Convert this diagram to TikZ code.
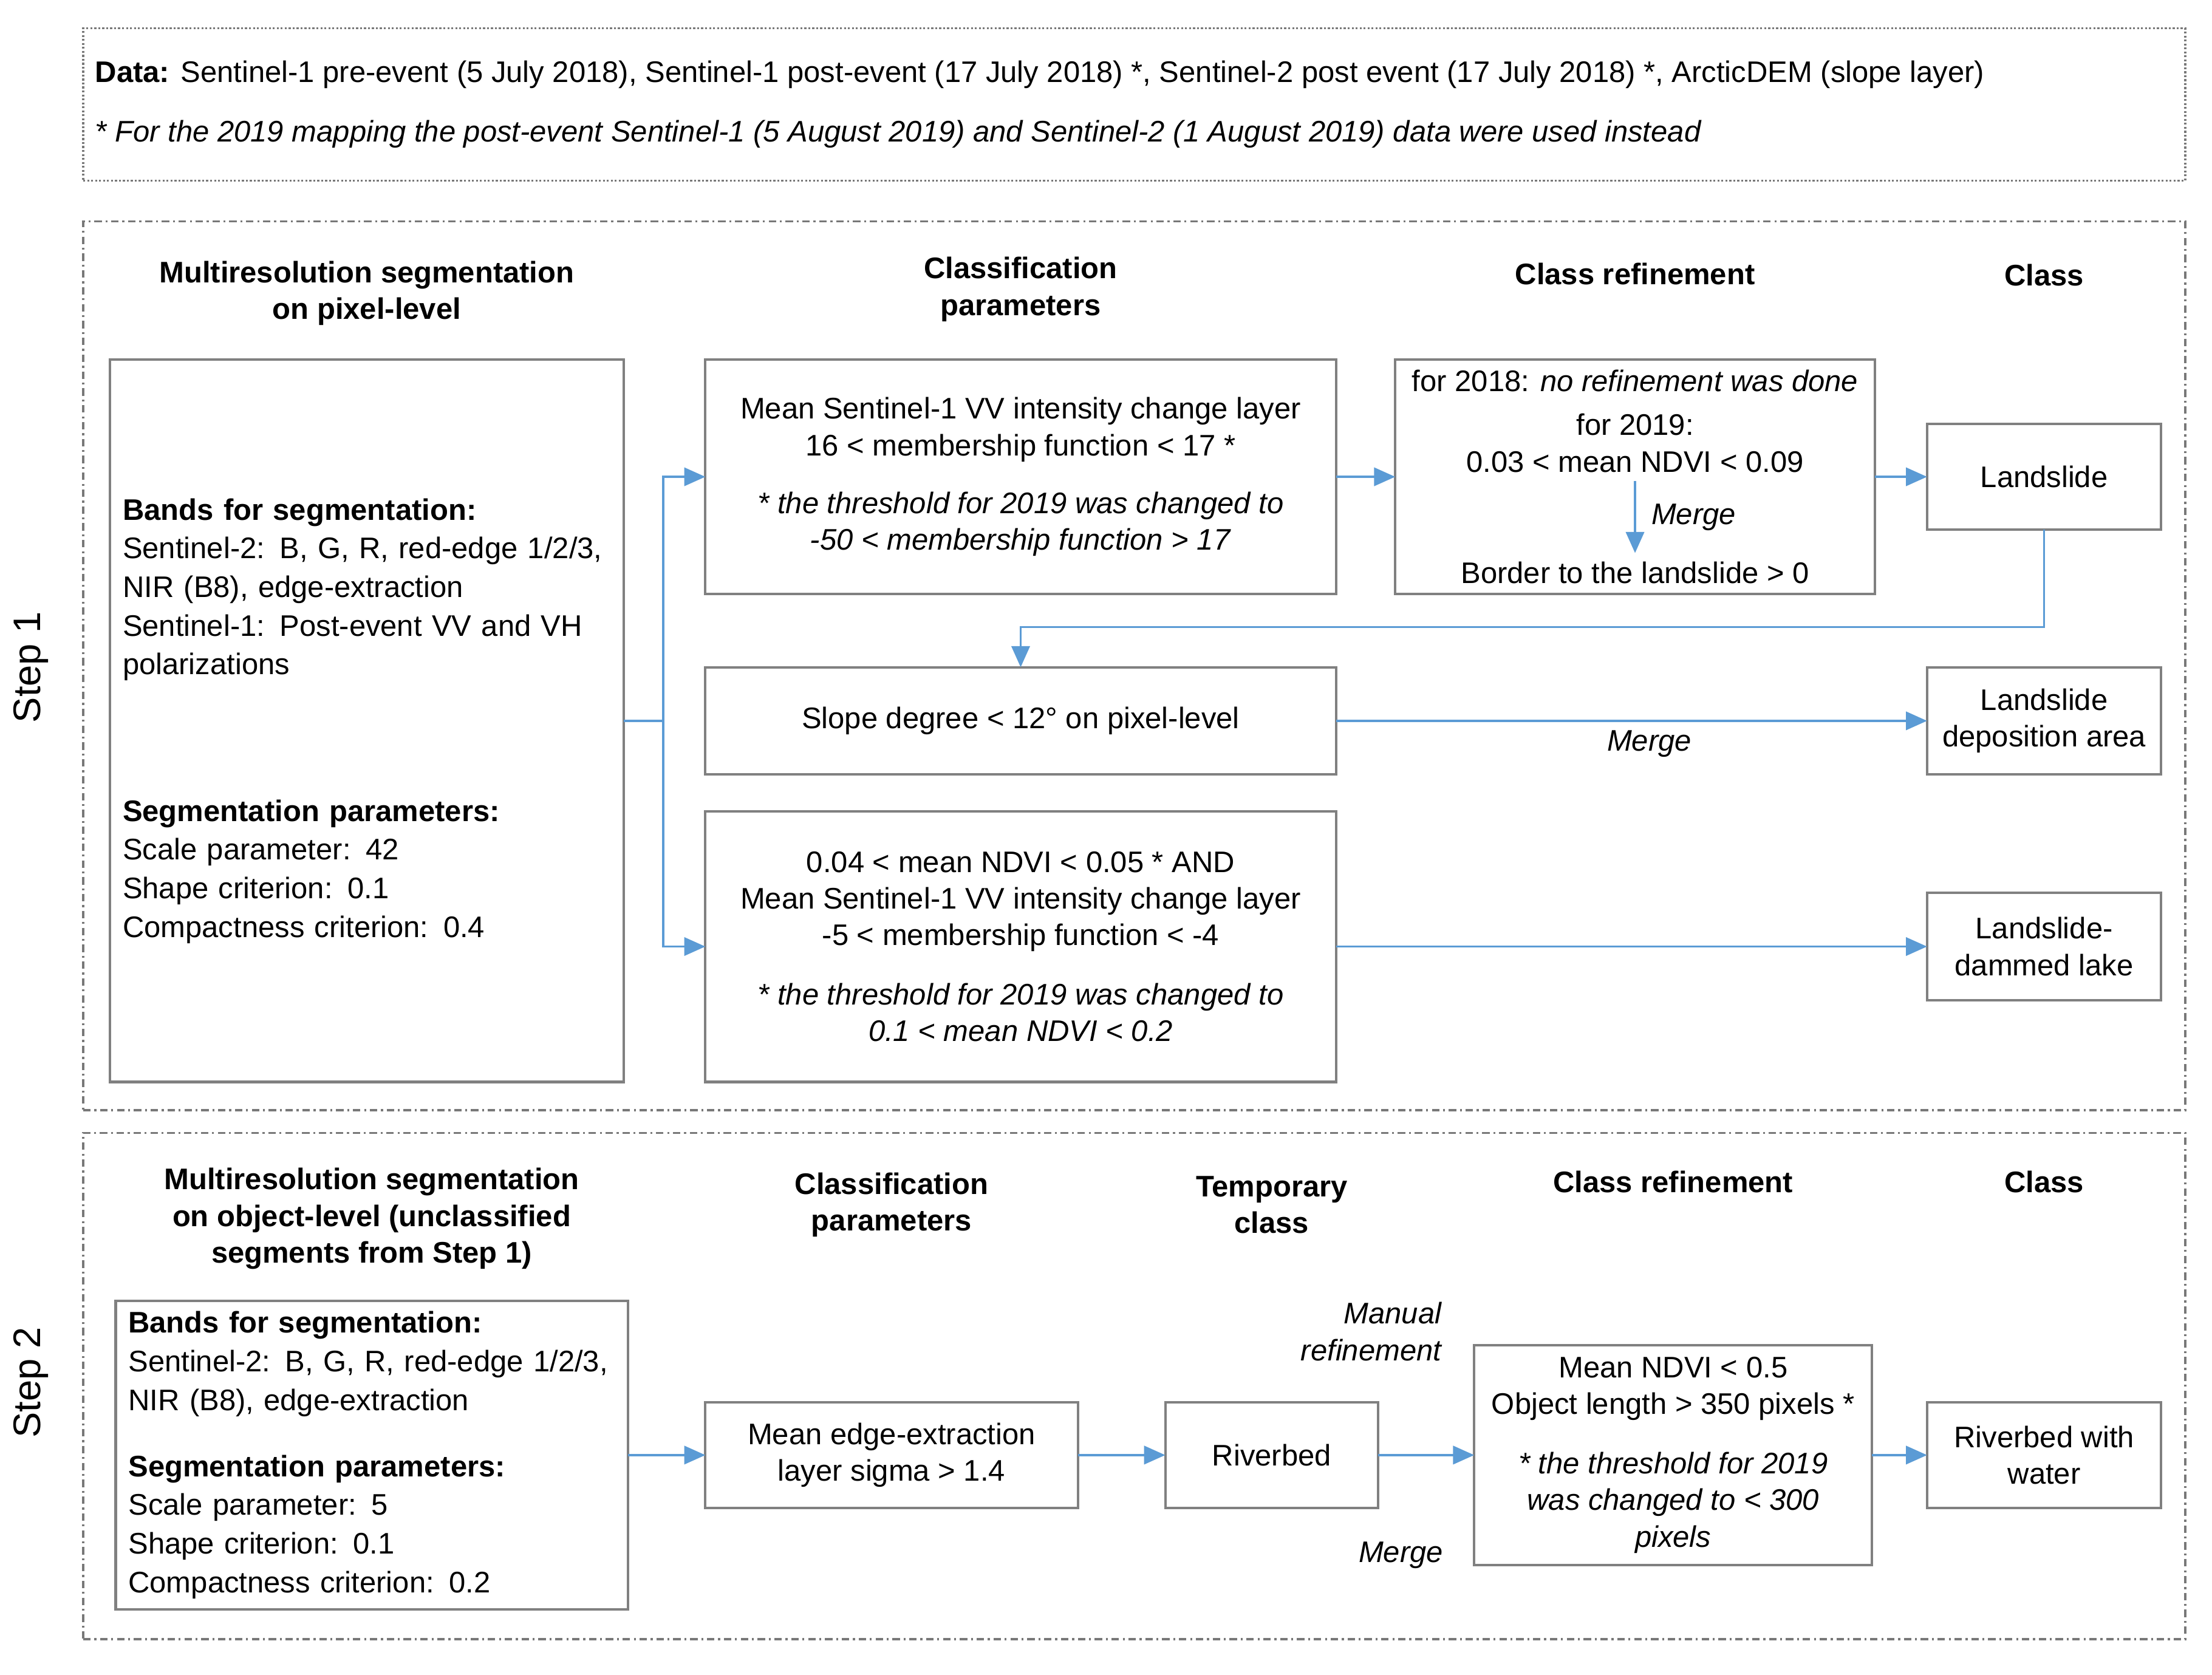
\documentclass[tikz,border=0pt]{standalone}
\usepackage{fontspec}
\setmainfont{Liberation Sans}
\usetikzlibrary{arrows.meta,positioning}
\definecolor{boxgray}{RGB}{128,128,128}
\definecolor{framegray}{RGB}{120,120,120}
\definecolor{arrowblue}{RGB}{91,155,213}
\newcommand{\boxfont}{\fontsize{12}{14.8}\selectfont}

\begin{document}
\begin{tikzpicture}[every node/.style={font=\boxfont},
  box/.style={rectangle, draw=boxgray, line width=1pt, align=center, inner sep=0pt, outer sep=0pt},
  leftbox/.style={rectangle, draw=boxgray, line width=1pt, align=left, outer sep=0pt,
                  inner xsep=0.18cm, inner ysep=0pt, font=\fontsize{12}{15.6}\selectfont},
  head/.style={align=center, font=\boxfont\bfseries},
  lbl/.style={font=\boxfont\itshape},
  frame/.style={draw=framegray, line width=0.8pt, dash pattern=on 3pt off 1.5pt on 0.8pt off 1.5pt},
  line/.style={draw=arrowblue, line width=0.9pt},
  arrow/.style={line, -{Triangle[length=0.3cm,width=0.26cm]}}]
  \useasboundingbox (0,0) rectangle (31.36,-23.74);

  \node[draw=framegray, line width=0.8pt, dash pattern=on 0.8pt off 0.8pt,
        minimum width=29.8cm, minimum height=2.16cm] (data) at (16.08,-1.48) {};
  \node[anchor=west, align=left] (datatxt) at ([xshift=0.06cm]data.west)
    {\textbf{Data:} Sentinel-1 pre-event (5 July 2018), Sentinel-1 post-event (17 July 2018) *, Sentinel-2 post event (17 July 2018) *, ArcticDEM (slope layer)\\[0.32cm]
     \textit{* For the 2019 mapping the post-event Sentinel-1 (5 August 2019) and Sentinel-2 (1 August 2019) data were used instead}};

  \node[frame, minimum width=29.8cm, minimum height=12.6cm] (frame1) at (16.08,-9.44) {};
  \node[frame, minimum width=29.8cm, minimum height=7.18cm] (frame2) at (16.08,-19.65) {};
  \node[rotate=90, font=\fontsize{15.5}{18}\selectfont] (step1) at (0.44,-9.46) {Step 1};
  \node[rotate=90, font=\fontsize{15.5}{18}\selectfont] (step2) at (0.44,-19.6) {Step 2};

  \node[leftbox, text width=6.92cm, minimum height=10.24cm] (seg1) at (5.2,-10.22)
    {\textbf{Bands for segmentation:}\\Sentinel-2: B, G, R, red-edge 1/2/3,\\NIR (B8), edge-extraction\\
     Sentinel-1: Post-event VV and VH\\polarizations\\[1.53cm]
     \textbf{Segmentation parameters:}\\Scale parameter: 42\\Shape criterion: 0.1\\Compactness criterion: 0.4};
  \node[box, minimum width=8.94cm, minimum height=3.32cm, right=1.16cm of seg1.north east, anchor=north west] (vv)
    {Mean Sentinel-1 VV intensity change layer\\16 < membership function < 17 *\\[0.3cm]
     \textit{* the threshold for 2019 was changed to}\\\textit{-50 < membership function > 17}};
  \node[box, minimum width=6.8cm, minimum height=3.32cm, right=0.84cm of vv] (ref1) {};
  \node (r18) at ([yshift=-0.3cm]ref1.north) {for 2018: \textit{no refinement was done}};
  \node[align=center] (r19) at ([yshift=-1.18cm]ref1.north) {for 2019:\\0.03 < mean NDVI < 0.09};
  \node (border) at ([yshift=0.3cm]ref1.south) {Border to the landslide > 0};
  \node[box, minimum width=3.32cm, minimum height=1.5cm, right=0.74cm of ref1] (slide) {Landslide};
  \node[box, minimum width=8.94cm, minimum height=1.52cm, below=1.04cm of vv] (slope)
    {Slope degree < 12° on pixel-level};
  \node[box, minimum width=3.32cm, minimum height=1.52cm] (depo) at (slide |- slope) {Landslide\\deposition area};
  \node[box, minimum width=8.94cm, minimum height=3.84cm, below=0.52cm of slope] (lake)
    {0.04 < mean NDVI < 0.05 * AND\\Mean Sentinel-1 VV intensity change layer\\-5 < membership function < -4\\[0.32cm]
     \textit{* the threshold for 2019 was changed to}\\\textit{0.1 < mean NDVI < 0.2}};
  \node[box, minimum width=3.32cm, minimum height=1.52cm] (dammed) at (slide |- lake) {Landslide-\\dammed lake};

  \node[head] (h1seg) at (seg1 |- 0,-4.16) {Multiresolution segmentation\\on pixel-level};
  \node[head] (h1par) at (vv |- 0,-4.10) {Classification\\parameters};
  \node[head] (h1ref) at (ref1 |- 0,-3.88) {Class refinement};
  \node[head] (h1cls) at (slide |- 0,-3.9) {Class};

  \coordinate (fork) at ([xshift=0.56cm]seg1.east);
  \draw[line] (seg1.east) -- (fork);
  \draw[arrow] (fork) |- (vv);
  \draw[arrow] (fork) |- (lake);
  \draw[arrow] (vv) -- (ref1);
  \draw[arrow] (ref1) -- (slide);
  \draw[arrow] (r19) -- node[lbl, right, xshift=0.1cm] {Merge} (border);
  \draw[arrow] (slide.south) -- ++(0,-1.38) -| (slope.north);
  \draw[arrow] (slope) -- node[lbl, below, pos=0.53] {Merge} (depo);
  \draw[arrow] (lake) -- (dammed);

  \node[leftbox, text width=6.9cm, minimum height=4.38cm] (seg2) at (5.27,-20.63)
    {\textbf{Bands for segmentation:}\\Sentinel-2: B, G, R, red-edge 1/2/3,\\NIR (B8), edge-extraction\\[0.39cm]
     \textbf{Segmentation parameters:}\\Scale parameter: 5\\Shape criterion: 0.1\\Compactness criterion: 0.2};
  \node[box, minimum width=5.28cm, minimum height=1.5cm, right=1.1cm of seg2] (edge)
    {Mean edge-extraction\\layer sigma > 1.4};
  \node[box, minimum width=3.02cm, minimum height=1.5cm, right=1.24cm of edge] (river) {Riverbed};
  \node[box, minimum width=5.64cm, minimum height=3.12cm, right=1.36cm of river] (ref2)
    {Mean NDVI < 0.5\\Object length > 350 pixels *\\[0.32cm]
     \textit{* the threshold for 2019}\\\textit{was changed to < 300}\\\textit{pixels}};
  \node[box, minimum width=3.32cm, minimum height=1.5cm, right=0.78cm of ref2] (water) {Riverbed with\\water};

  \node[head] (h2seg) at (seg2 |- 0,-17.28) {Multiresolution segmentation\\on object-level (unclassified\\segments from Step 1)};
  \node[head] (h2par) at (edge |- 0,-17.08) {Classification\\parameters};
  \node[head] (h2tmp) at (river |- 0,-17.08) {Temporary\\class};
  \node[head] (h2ref) at (ref2 |- 0,-16.76) {Class refinement};
  \node[head] (h2cls) at (water |- 0,-16.76) {Class};
  \node[lbl, align=right, anchor=east] (manual) at ([xshift=-0.34cm,yshift=0.19cm]ref2.north west) {Manual\\refinement};
  \node[lbl] (merge2) at ([xshift=-1.04cm,yshift=0.14cm]ref2.south west) {Merge};

  \draw[arrow] (seg2) -- (edge);
  \draw[arrow] (edge) -- (river);
  \draw[arrow] (river) -- (ref2);
  \draw[arrow] (ref2) -- (water);
\end{tikzpicture}
\end{document}
